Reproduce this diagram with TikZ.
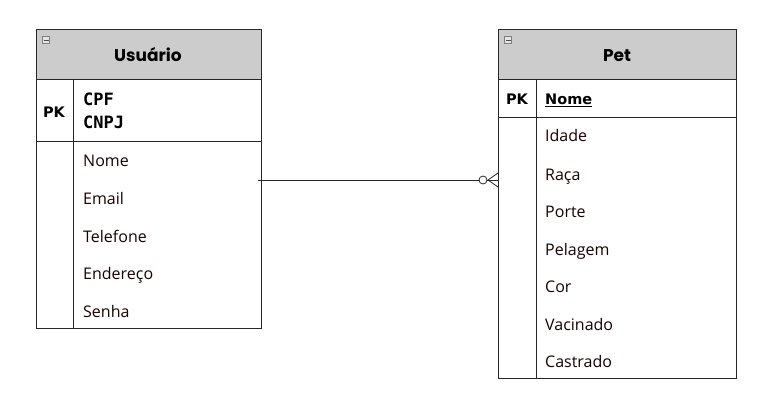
\documentclass[tikz,border=0pt]{standalone}
\usepackage{fontspec}
\setmainfont{DejaVu Sans}
\newfontfamily\titlefont{Poppins}
\newfontfamily\attrfont{Open Sans}
\newfontfamily\pkfont{DejaVu Sans Mono}
\newfontfamily\lblfont{DejaVu Sans}
\begin{document}
\begin{tikzpicture}[x=1pt,y=-1pt,
  box/.style={draw=black!85,line width=0.9pt,inner sep=0pt},
  head/.style={box,fill=black!20},
  ttl/.style={font=\titlefont\bfseries\fontsize{17}{19}\selectfont,text=black,anchor=base,inner sep=0pt},
  attr/.style={font=\attrfont\fontsize{16}{18}\selectfont,text=black!90!red,anchor=base west,inner sep=0pt},
  pk/.style={font=\pkfont\bfseries\fontsize{17}{19}\selectfont,text=black,anchor=base west,inner sep=0pt},
  pklbl/.style={font=\lblfont\bfseries\fontsize{14.5}{16}\selectfont,text=black,anchor=base,inner sep=0pt},
  mini/.style={draw=black!50,fill=black!10,line width=0.4pt,minimum size=7pt,inner sep=0pt}
]
\useasboundingbox (0,0) rectangle (767,406);
% ---- Usuario
\path[head] (36,29) rectangle (261,79);
\path[box] (36,79) rectangle (261,141);
\path[box] (36,141) rectangle (261,328);
\draw[black!85,line width=0.9pt] (73,79) -- (73,328);
\node[mini] (um) at (46,40) {};
\draw[black!70,line width=0.8pt] (43.5,40) -- (48.5,40);
\node[ttl] (ut) at (148,61.5) {Usuário};
\node[pklbl] (upk) at (54,117.5) {PK};
\node[pk] (ucpf) at (83,106) {CPF};
\node[pk] (ucnpj) at (83,129) {CNPJ};
\node[attr] (u1) at (83,166) {Nome};
\node[attr] (u2) at (83,204) {Email};
\node[attr] (u3) at (83,242) {Telefone};
\node[attr] (u4) at (83,279) {Endereço};
\node[attr] (u5) at (83,317) {Senha};
% ---- Pet
\path[head] (498,29) rectangle (736,79);
\path[box] (498,79) rectangle (736,117);
\path[box] (498,117) rectangle (736,378);
\draw[black!85,line width=0.9pt] (536,79) -- (536,378);
\node[mini] (pm) at (508,40) {};
\draw[black!70,line width=0.8pt] (505.5,40) -- (510.5,40);
\node[ttl] (pt) at (617,61.5) {Pet};
\node[pklbl] (ppk) at (517,104.5) {PK};
\node[pklbl,anchor=base west] (pn) at (545,104.5) {\underline{Nome}};
\node[attr] (p1) at (545,142) {Idade};
\node[attr] (p2) at (545,180) {Raça};
\node[attr] (p3) at (545,217) {Porte};
\node[attr] (p4) at (545,255) {Pelagem};
\node[attr] (p5) at (545,292) {Cor};
\node[attr] (p6) at (545,330) {Vacinado};
\node[attr] (p7) at (545,367) {Castrado};
% ---- relation
\coordinate (ra) at (258,180);
\coordinate (rb) at (498,180);
\coordinate (rc) at (479,180);
\draw[black!85,line width=0.9pt] (ra) -- (rc);
\draw[black!85,line width=0.8pt] (483,180) circle (4);
\draw[black!85,line width=0.8pt] (487,180) -- (rb);
\draw[black!85,line width=0.8pt] (498,173) -- (488,180) -- (498,187);
\end{tikzpicture}
\end{document}
